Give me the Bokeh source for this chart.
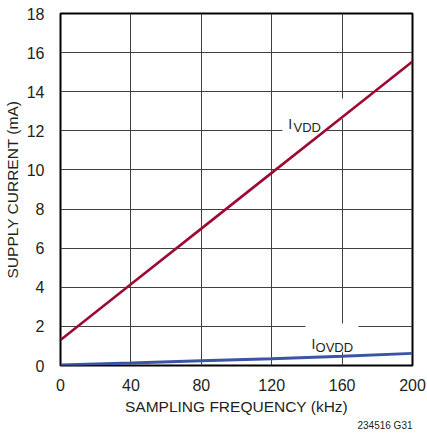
from bokeh.plotting import figure
from bokeh.models import Label, FixedTicker, Range1d, ColumnDataSource, BoxAnnotation, Title
from bokeh.embed import file_html
from bokeh.resources import INLINE

# ---- data ----
freq_khz = [0, 40, 80, 120, 160, 200]
i_vdd_ma = [1.30, 4.15, 7.00, 9.85, 12.70, 15.55]
i_ovdd_ma = [0.03, 0.13, 0.24, 0.34, 0.47, 0.62]
x_ticks = [0, 40, 80, 120, 160, 200]
y_ticks = [0, 2, 4, 6, 8, 10, 12, 14, 16, 18]
x_title = "SAMPLING FREQUENCY (kHz)"
y_title = "SUPPLY CURRENT (mA)"
note_text = "234516 G31"

FONT = "Liberation Sans"
TXT = "#231f20"
RED = "#9e0b32"
BLUE = "#3a55a4"
GRID = "#404040"

src = ColumnDataSource(dict(f=freq_khz, vdd=i_vdd_ma, ovdd=i_ovdd_ma))

p = figure(width=427, height=433,
           x_range=Range1d(0, 200), y_range=Range1d(0, 18),
           output_backend="svg", toolbar_location=None,
           min_border_left=60, min_border_right=15,
           min_border_top=13, min_border_bottom=68,
           background_fill_color="white", border_fill_color="white")

p.outline_line_color = "black"
p.outline_line_width = 2

for ax in (p.xaxis[0], p.yaxis[0]):
    ax.axis_line_color = None
    ax.major_tick_line_color = None
    ax.minor_tick_line_color = None
    ax.major_label_text_font = FONT
    ax.major_label_text_font_size = "16px"
    ax.major_label_text_color = TXT
    ax.axis_label_text_font = FONT
    ax.axis_label_text_font_size = "15.5px"
    ax.axis_label_text_font_style = "normal"
    ax.axis_label_text_color = TXT

p.xaxis.ticker = FixedTicker(ticks=x_ticks)
p.yaxis.ticker = FixedTicker(ticks=y_ticks)
p.xaxis.axis_label = x_title
p.yaxis.axis_label = y_title
p.xaxis.major_label_standoff = 7
p.xaxis.axis_label_standoff = 4
p.yaxis.major_label_standoff = 10
p.yaxis.axis_label_standoff = 3

p.xgrid.ticker = FixedTicker(ticks=x_ticks)
p.ygrid.ticker = FixedTicker(ticks=y_ticks)
for g in (p.xgrid[0], p.ygrid[0]):
    g.grid_line_color = GRID
    g.grid_line_width = 1
    g.grid_line_alpha = 1.0

# white masks behind the curve labels (above the grid, below the curves)
masks = [
    BoxAnnotation(left=126.1, right=161.6, bottom=12.62, top=13.65),
    BoxAnnotation(left=126.1, right=150.0, bottom=11.8, top=12.62),
    BoxAnnotation(left=139.2, right=169.3, bottom=0.68, top=2.15),
]
for m in masks:
    m.fill_color = "white"
    m.fill_alpha = 1.0
    m.line_color = None
    m.level = "underlay"
    p.add_layout(m)

labels = [
    Label(x=129.4, y=12.37, text="I", text_font_size="14px"),
    Label(x=132.4, y=12.17, text="VDD", text_font_size="13px"),
    Label(x=142.6, y=1.125, text="I", text_font_size="14px"),
    Label(x=144.9, y=0.92, text="OVDD", text_font_size="13px"),
]
for lb in labels:
    lb.text_font = FONT
    lb.text_color = TXT
    lb.text_baseline = "alphabetic"
    lb.text_align = "left"
    p.add_layout(lb)

p.line("f", "vdd", source=src, line_color=RED, line_width=2.6)
p.line("f", "ovdd", source=src, line_color=BLUE, line_width=3)

note = Title(text=note_text, align="right", text_font=FONT, text_font_size="10px",
             text_font_style="normal", text_color=TXT, standoff=0)
p.add_layout(note, "below")

open("out.html", "w").write(file_html(p, INLINE))
